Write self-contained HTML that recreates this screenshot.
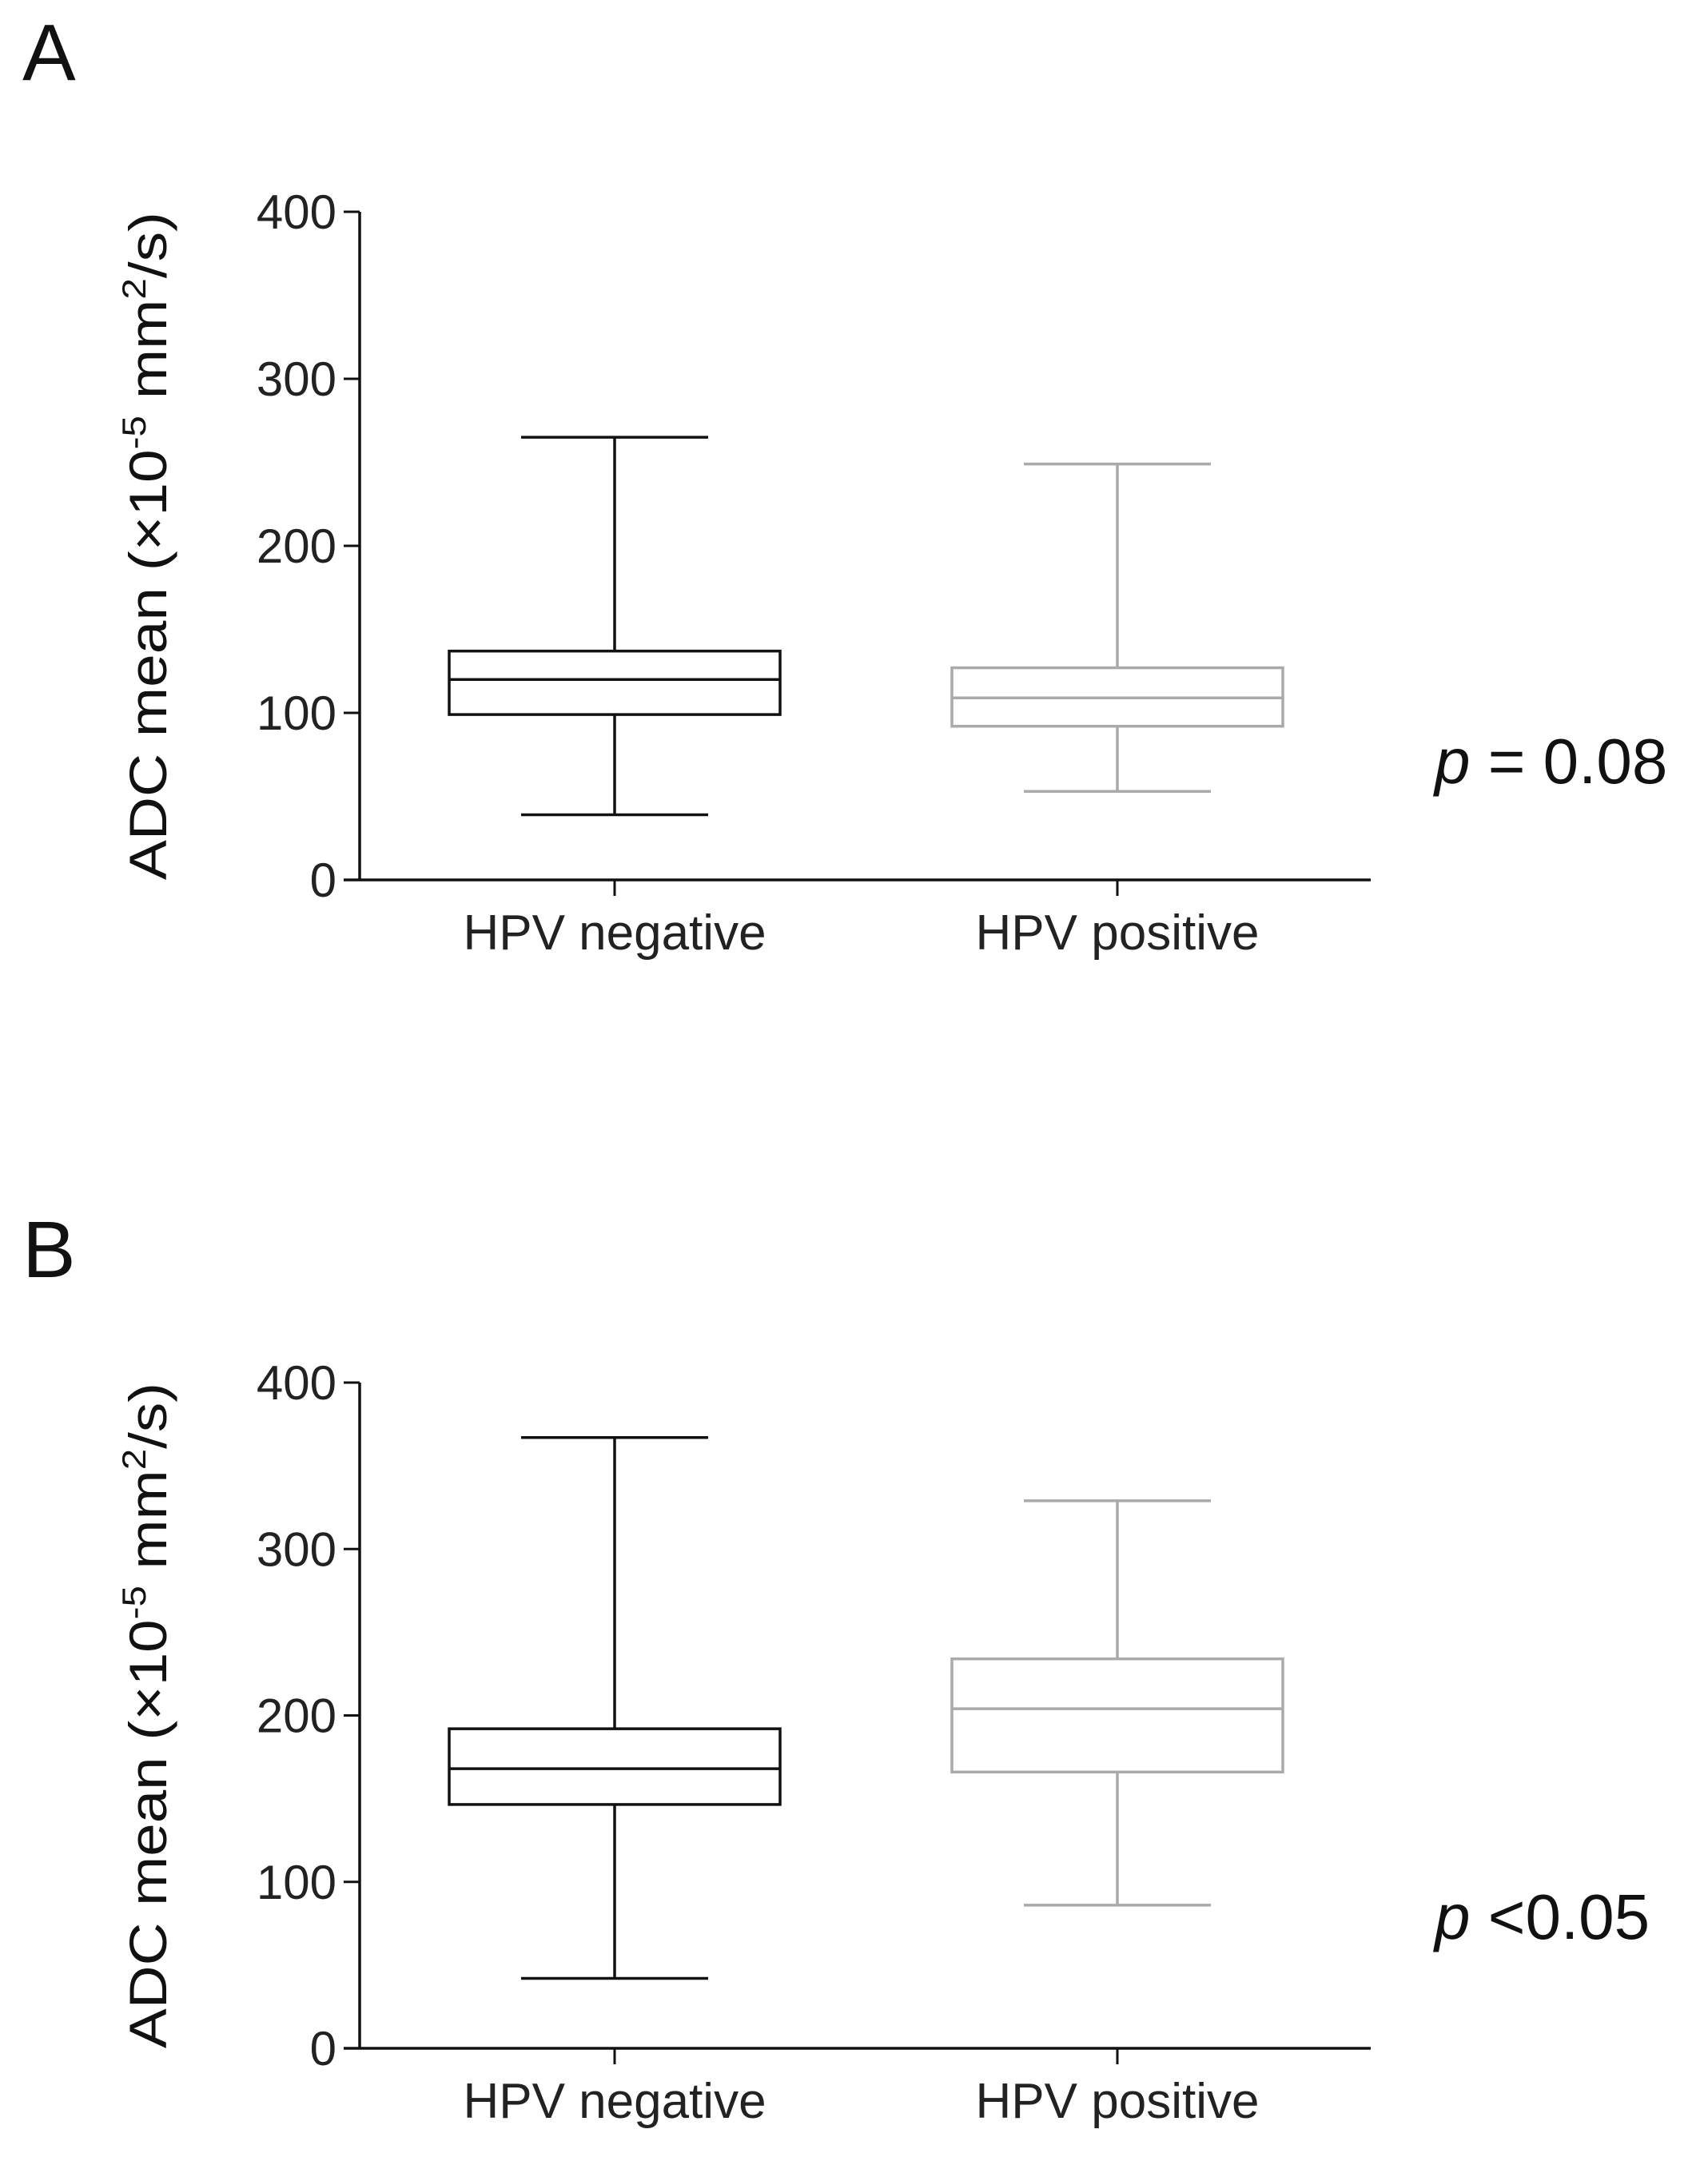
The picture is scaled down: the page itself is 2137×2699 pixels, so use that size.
<!DOCTYPE html>
<html><head><meta charset="utf-8"><style>
html,body{margin:0;padding:0;background:#fff;}
svg{display:block;font-family:"Liberation Sans",Arial,sans-serif;}
</style></head><body>
<svg id="fig" width="2137" height="2699" viewBox="0 0 2137 2699" xmlns="http://www.w3.org/2000/svg">
<text x="28" y="100" font-size="100" fill="#111">A</text>
<text x="28" y="1598" font-size="100" fill="#111">B</text>
<g id="pa"></g>
<g id="pb"></g>
<text x="1795" y="980" font-size="80" fill="#111"><tspan font-style="italic">p</tspan> = 0.08</text>
<text x="1795" y="2426" font-size="80" fill="#111"><tspan font-style="italic">p</tspan> &lt;0.05</text>
</svg>
<script>
const categories = ["HPV negative", "HPV positive"];
const yTicks = [0, 100, 200, 300, 400];
const aMin = [39, 53];
const aQ1 = [99, 92];
const aMed = [120, 109];
const aQ3 = [137, 127];
const aMax = [265, 249];
const bMin = [42, 86];
const bQ1 = [146.5, 166];
const bMed = [168, 204];
const bQ3 = [192, 234];
const bMax = [367, 329];
const colors = ["#111111", "#aaaaaa"];

const NS = "http://www.w3.org/2000/svg";
function mk(parent, tag, attrs) {
  const e = document.createElementNS(NS, tag);
  for (const k in attrs) e.setAttribute(k, attrs[k]);
  parent.appendChild(e);
  return e;
}
function drawPanel(g, top, bottom, mins, q1s, meds, q3s, maxs, tag) {
  const x0 = 450, x1 = 1715;
  const y = v => bottom - (v / 400) * (bottom - top);
  const xc = i => [769, 1398][i];
  const halfBox = 207, halfCap = 117;
  let ax = mk(g, "line", {x1: x0, y1: top, x2: x0, y2: bottom, stroke: "#111", "stroke-width": 3.5});
  
  
  let xa = mk(g, "line", {x1: x0 - 20, y1: bottom, x2: x1, y2: bottom, stroke: "#111", "stroke-width": 3.5});
  
  
  yTicks.forEach(t => {
    let tl = mk(g, "line", {x1: x0 - 20, y1: y(t), x2: x0, y2: y(t), stroke: "#111", "stroke-width": 3});
    
    
    let tx = mk(g, "text", {x: 421, y: y(t) + 21, "font-size": 60, "text-anchor": "end", fill: "#222"});
    tx.textContent = t;
    
    
  });
  let title = mk(g, "text", {x: 0, y: 0, "font-size": 66, "text-anchor": "middle", fill: "#111",
    transform: "translate(208," + ((top + bottom) / 2) + ") rotate(-90)", textLength: bottom - top, lengthAdjust: "spacingAndGlyphs"});
  title.innerHTML = 'ADC mean (×10<tspan dy="-26" font-size="42">-5</tspan><tspan dy="26"> mm</tspan><tspan dy="-26" font-size="42">2</tspan><tspan dy="26">/s)</tspan>';
  
  
  categories.forEach((c, i) => {
    const cx = xc(i), col = colors[i], sw = i === 0 ? 3.5 : 3.5;
    let tk = mk(g, "line", {x1: cx, y1: bottom, x2: cx, y2: bottom + 20, stroke: "#111", "stroke-width": 3});
    
    
    let lb = mk(g, "text", {x: cx, y: bottom + 87, "font-size": 62, "text-anchor": "middle", fill: "#222"});
    lb.textContent = c;
    
    
    const bg = mk(g, "g", {stroke: col, "stroke-width": sw, fill: "none"});
    
    
    mk(bg, "line", {x1: cx, y1: y(maxs[i]), x2: cx, y2: y(q3s[i])});
    mk(bg, "line", {x1: cx, y1: y(q1s[i]), x2: cx, y2: y(mins[i])});
    mk(bg, "line", {x1: cx - halfCap, y1: y(maxs[i]), x2: cx + halfCap, y2: y(maxs[i])});
    mk(bg, "line", {x1: cx - halfCap, y1: y(mins[i]), x2: cx + halfCap, y2: y(mins[i])});
    mk(bg, "rect", {x: cx - halfBox, y: y(q3s[i]), width: 2 * halfBox, height: y(q1s[i]) - y(q3s[i])});
    mk(bg, "line", {x1: cx - halfBox, y1: y(meds[i]), x2: cx + halfBox, y2: y(meds[i])});
  });
}
drawPanel(document.getElementById("pa"), 265, 1101, aMin, aQ1, aMed, aQ3, aMax, "a");
drawPanel(document.getElementById("pb"), 1730, 2563, bMin, bQ1, bMed, bQ3, bMax, "b");
</script>
</body></html>
